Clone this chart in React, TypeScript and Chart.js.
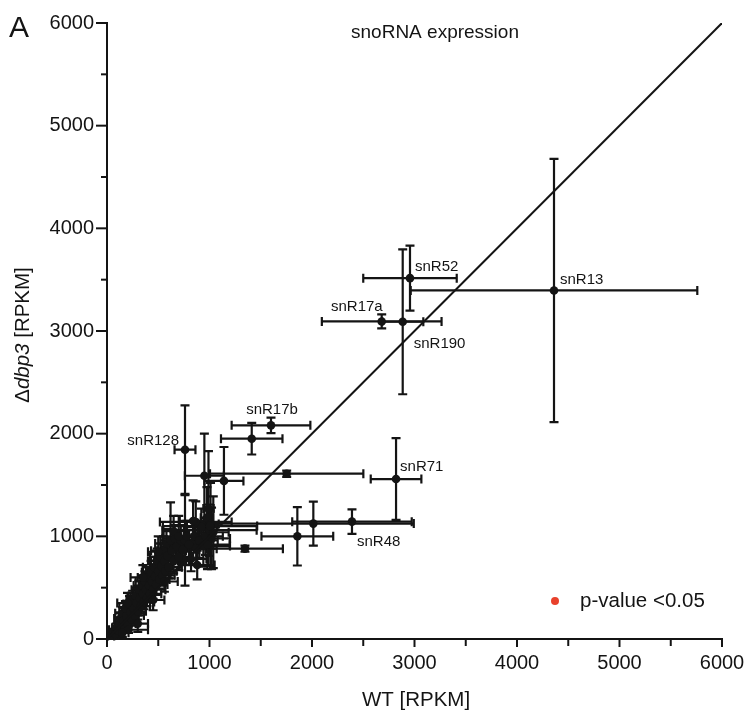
import React, { useEffect, useRef } from 'react';
import { Chart, registerables } from 'chart.js';

Chart.register(...registerables);

const FONT = '"Liberation Sans", Arial, Helvetica, sans-serif';
const INK = '#141414';

// Labelled snoRNAs
const namedNames = ['snR13', 'snR52', 'snR190', 'snR17a', 'snR71', 'snR48', 'snR17b', 'snR128'];
const namedWT = [4361, 2956, 2885, 2680, 2820, 2390, 1600, 761];
const namedDbp3 = [3395, 3515, 3090, 3093, 1558, 1143, 2081, 1844];
const namedWTErr = [1398, 456, 201, 584, 247, 583, 384, 102];
const namedDbp3Err = [1282, 316, 706, 68, 398, 120, 75, 431];

// Other snoRNAs
const otherWT = [
  1412, 1753, 950, 1141, 2013, 1857, 1346,
  40, 60, 80, 90, 110, 120, 130, 140, 150, 160, 170, 180, 190, 200, 210, 220, 230, 240, 250, 260, 270, 280, 290, 300,
  310, 320, 330, 340, 350, 360, 370, 380, 390,
  400, 410, 420, 430, 440, 450, 460, 470, 480, 490, 500, 510, 520, 530, 540, 550, 560, 570, 580, 590, 600,
  620, 630, 650, 660, 680, 700,
  720, 740, 761, 780, 800, 820, 850, 870, 900, 920, 940, 960, 975, 990, 1000, 1010, 1020, 1037, 980, 866, 1005,
  200, 350, 500, 150, 300, 450, 650, 560, 700, 840, 880,
];
const otherDbp3 = [
  1951, 1610, 1590, 1540, 1124, 1000, 880,
  30, 70, 50, 110, 80, 150, 200, 120, 250, 180, 100, 300, 220, 150, 90, 340, 260, 190, 380, 300, 230, 420, 350, 270,
  480, 400, 320, 520, 440, 360, 560, 480, 400,
  600, 520, 440, 650, 560, 480, 700, 610, 530, 760, 660, 580, 800, 710, 620, 860, 760, 660, 930, 810, 700,
  960, 860, 760, 980, 900, 800,
  960, 870, 960, 1000, 920, 780, 1000, 880, 960, 1090, 905, 1000, 1180, 1270, 1060, 1120, 980, 1040, 920, 1140, 1100,
  350, 600, 850, 60, 150, 380, 1050, 560, 1000, 1150, 720,
];
const otherWTErr = [
  300, 748, 190, 190, 980, 350, 370,
  30, 40, 30, 40, 50, 40, 60, 50, 70, 60, 60, 60, 70, 80, 190, 60, 80, 70, 60, 80, 90, 70, 80, 80,
  70, 90, 90, 80, 90, 100, 90, 100, 80,
  100, 90, 110, 90, 100, 120, 110, 100, 110, 90, 120, 100, 100, 110, 120, 120, 130, 110, 110, 120, 130,
  100, 140, 150, 120, 150, 140,
  130, 160, 120, 140, 170, 150, 160, 200, 180, 150, 260, 170, 60, 50, 460, 80, 180, 150, 217, 350, 460,
  100, 120, 100, 60, 100, 110, 100, 130, 150, 130, 170,
];
const otherDbp3Err = [
  154, 30, 410, 330, 215, 284, 30,
  20, 30, 30, 40, 40, 50, 60, 40, 60, 50, 40, 70, 60, 50, 30, 80, 70, 60, 90, 60, 60, 80, 70, 80,
  90, 80, 70, 100, 80, 70, 100, 90, 80,
  100, 90, 80, 110, 100, 90, 100, 110, 100, 120, 110, 90, 130, 110, 100, 140, 110, 100, 140, 120, 110,
  370, 130, 120, 130, 140, 130,
  150, 130, 440, 150, 140, 120, 160, 150, 170, 180, 200, 180, 300, 560, 250, 400, 300, 350, 240, 200, 150,
  100, 120, 150, 40, 80, 100, 150, 100, 200, 200, 140,
];

// Axis ticks
const axisMin = 0;
const axisMax = 6000;
const tickStep = 500;
const majorStep = 1000;

const titleText = 'snoRNA expression';
const panelLetter = 'A';
const xTitle = 'WT [RPKM]';
const legendLabel = 'p-value <0.05';
const legendColor = '#e8412c';

// label placement (pixel offset from the point, alignment)
const namedLabelPlacement: [number, number, CanvasTextAlign][] = [
  [6, -11, 'left'],
  [5, -11, 'left'],
  [11, 22, 'left'],
  [1, -15, 'right'],
  [4, -12, 'left'],
  [5, 20, 'left'],
  [1, -15, 'center'],
  [-6, -9, 'right'],
];

const errorBarPlugin = {
  id: 'errorBars',
  beforeDatasetsDraw(chart: any) {
    const { ctx, scales } = chart;
    const xs = scales.x;
    const ys = scales.y;
    const cap = 4.5;
    ctx.save();
    ctx.strokeStyle = INK;
    ctx.lineWidth = 2.2;
    const drawSet = (vx: number[], vy: number[], ex: number[], ey: number[]) => {
      for (let i = 0; i < vx.length; i++) {
        const px = xs.getPixelForValue(vx[i]);
        const py = ys.getPixelForValue(vy[i]);
        const x0 = xs.getPixelForValue(vx[i] - ex[i]);
        const x1 = xs.getPixelForValue(vx[i] + ex[i]);
        const y0 = ys.getPixelForValue(vy[i] - ey[i]);
        const y1 = ys.getPixelForValue(vy[i] + ey[i]);
        ctx.beginPath();
        ctx.moveTo(x0, py); ctx.lineTo(x1, py);
        ctx.moveTo(x0, py - cap); ctx.lineTo(x0, py + cap);
        ctx.moveTo(x1, py - cap); ctx.lineTo(x1, py + cap);
        ctx.moveTo(px, y0); ctx.lineTo(px, y1);
        ctx.moveTo(px - cap, y0); ctx.lineTo(px + cap, y0);
        ctx.moveTo(px - cap, y1); ctx.lineTo(px + cap, y1);
        ctx.stroke();
      }
    };
    drawSet(otherWT, otherDbp3, otherWTErr, otherDbp3Err);
    drawSet(namedWT, namedDbp3, namedWTErr, namedDbp3Err);
    ctx.restore();
  },
};

const decorPlugin = {
  id: 'decor',
  afterDraw(chart: any) {
    const { ctx, scales, chartArea } = chart;
    const xs = scales.x;
    const ys = scales.y;
    ctx.save();
    ctx.strokeStyle = INK;
    ctx.fillStyle = INK;
    ctx.lineWidth = 2;
    // tick marks
    for (let v = axisMin; v <= axisMax; v += tickStep) {
      const major = v % majorStep === 0;
      const py = ys.getPixelForValue(v);
      ctx.beginPath();
      ctx.moveTo(chartArea.left - (major ? 11 : 6), py);
      ctx.lineTo(chartArea.left, py);
      ctx.stroke();
      const px = xs.getPixelForValue(v);
      ctx.beginPath();
      ctx.moveTo(px, chartArea.bottom);
      ctx.lineTo(px, chartArea.bottom + (major ? 8 : 7));
      ctx.stroke();
    }
    // point labels
    ctx.font = `15px ${FONT}`;
    ctx.textBaseline = 'middle';
    for (let i = 0; i < namedNames.length; i++) {
      const [dx, dy, align] = namedLabelPlacement[i];
      ctx.textAlign = align;
      ctx.fillText(namedNames[i], xs.getPixelForValue(namedWT[i]) + dx, ys.getPixelForValue(namedDbp3[i]) + dy);
    }
    // title
    ctx.font = `19px ${FONT}`;
    ctx.textAlign = 'center';
    ctx.fillText(titleText, 435, 33);
    // panel letter
    ctx.font = `30px ${FONT}`;
    ctx.textAlign = 'left';
    ctx.textBaseline = 'alphabetic';
    ctx.fillText(panelLetter, 9, 37);
    // x title
    ctx.font = `20.5px ${FONT}`;
    ctx.textAlign = 'center';
    ctx.textBaseline = 'middle';
    ctx.fillText(xTitle, 416, 700);
    // y title with italic gene name
    const parts: [string, string][] = [
      ['Δ', `20.5px ${FONT}`],
      ['dbp3', `italic 20.5px ${FONT}`],
      [' [RPKM]', `20.5px ${FONT}`],
    ];
    let total = 0;
    for (const [t, f] of parts) { ctx.font = f; total += ctx.measureText(t).width; }
    ctx.translate(23, 335);
    ctx.rotate(-Math.PI / 2);
    ctx.textAlign = 'left';
    let cx = -total / 2;
    for (const [t, f] of parts) {
      ctx.font = f;
      ctx.fillText(t, cx, 0);
      cx += ctx.measureText(t).width;
    }
    ctx.setTransform(1, 0, 0, 1, 0, 0);
    // legend
    ctx.fillStyle = legendColor;
    ctx.beginPath();
    ctx.arc(555, 601, 4, 0, Math.PI * 2);
    ctx.fill();
    ctx.fillStyle = INK;
    ctx.font = `20.5px ${FONT}`;
    ctx.textAlign = 'left';
    ctx.textBaseline = 'middle';
    ctx.fillText(legendLabel, 580, 601);
    ctx.restore();
  },
};

export default function App() {
  const ref = useRef<HTMLCanvasElement | null>(null);
  useEffect(() => {
    if (!ref.current) return;
    const toPts = (xs: number[], ys: number[]) => xs.map((x, i) => ({ x, y: ys[i] }));
    const chart = new Chart(ref.current, {
      type: 'scatter',
      data: {
        datasets: [
          {
            type: 'line',
            label: 'y = x',
            data: [{ x: axisMin, y: axisMin }, { x: axisMax, y: axisMax }],
            borderColor: INK,
            borderWidth: 2,
            pointRadius: 0,
            showLine: true,
            fill: false,
          } as any,
          {
            label: 'snoRNA',
            data: toPts(otherWT, otherDbp3),
            backgroundColor: INK,
            borderWidth: 0,
            pointRadius: 4.3,
          },
          {
            label: 'named',
            data: toPts(namedWT, namedDbp3),
            backgroundColor: INK,
            borderWidth: 0,
            pointRadius: 4.3,
          },
          {
            label: legendLabel,
            data: [],
            backgroundColor: legendColor,
            pointRadius: 4,
          },
        ],
      },
      options: {
        animation: false,
        responsive: false,
        events: [],
        layout: { padding: { left: 0, right: 30, top: 23, bottom: 0 } },
        plugins: { legend: { display: false }, tooltip: { enabled: false }, title: { display: false } },
        scales: {
          x: {
            type: 'linear',
            min: axisMin,
            max: axisMax,
            grid: { display: false, drawTicks: false },
            border: { display: true, color: INK, width: 2 },
            ticks: {
              stepSize: tickStep,
              autoSkip: false,
              maxRotation: 0,
              padding: 12,
              color: INK,
              font: { family: FONT, size: 20 },
              callback: (v: any) => (Number(v) % majorStep === 0 ? String(v) : ''),
            },
            afterFit: (s: any) => {
              s.height = 81;
              s.paddingLeft = 0;
              s.paddingRight = 0;
            },
          },
          y: {
            type: 'linear',
            min: axisMin,
            max: axisMax,
            grid: { display: false, drawTicks: false },
            border: { display: true, color: INK, width: 2 },
            ticks: {
              stepSize: tickStep,
              autoSkip: false,
              padding: 13,
              color: INK,
              font: { family: FONT, size: 20 },
              callback: (v: any) => (Number(v) % majorStep === 0 ? String(v) : ''),
            },
            afterFit: (s: any) => {
              s.width = 107;
              s.paddingTop = 0;
              s.paddingBottom = 0;
            },
          },
        },
      },
      plugins: [errorBarPlugin, decorPlugin],
    });
    return () => chart.destroy();
  }, []);
  return (
    <div style={{ position: 'absolute', left: 0, top: 0, width: 752, height: 720, background: '#fff' }}>
      <canvas ref={ref} width={752} height={720} style={{ display: 'block' }} />
    </div>
  );
}
